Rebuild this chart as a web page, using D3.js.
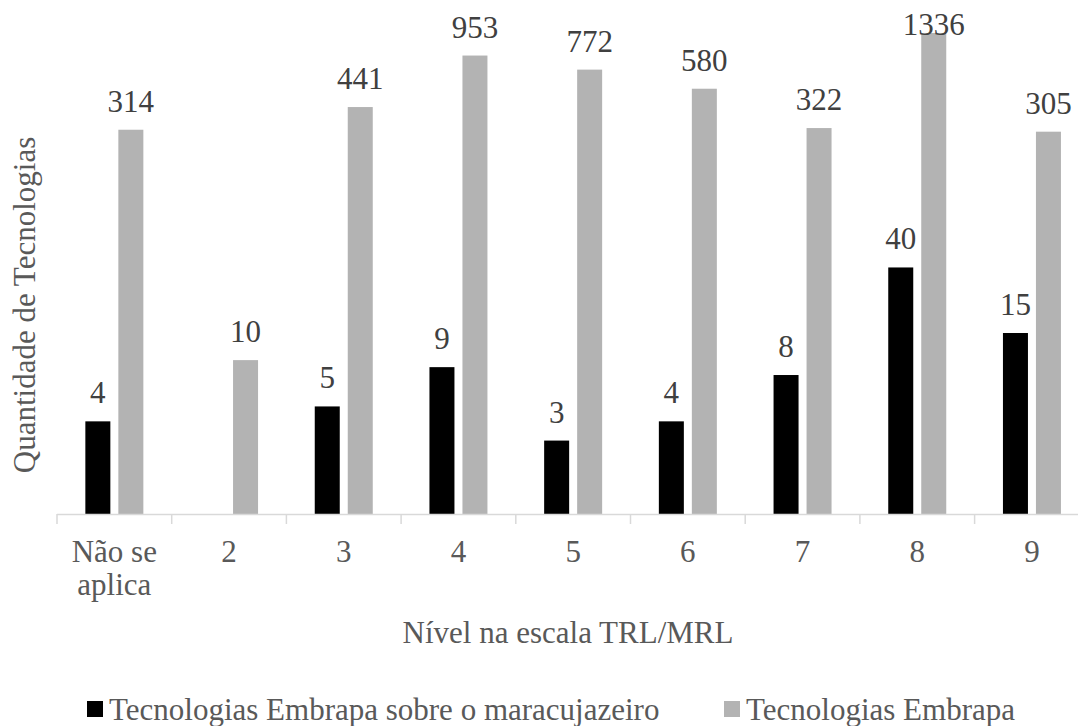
<!DOCTYPE html>
<html>
<head>
<meta charset="utf-8">
<script src="https://cdn.jsdelivr.net/npm/d3@7"></script>
<style>
  html, body { margin: 0; padding: 0; background: #ffffff; }
  svg { display: block; }
</style>
</head>
<body>
<svg id="chart" width="1078" height="726"></svg>
<script>
// Technology readiness levels (TRL/MRL) on the category axis
const categories = ["Não se aplica", "2", "3", "4", "5", "6", "7", "8", "9"];
const seriesNames = ["Tecnologias Embrapa sobre o maracujazeiro", "Tecnologias Embrapa"];
// Passion-fruit technologies per level (null = none)
const maracujaValues = [4, null, 5, 9, 3, 4, 8, 40, 15];
// All Embrapa technologies per level
const embrapaValues = [314, 10, 441, 953, 772, 580, 322, 1336, 305];
const seriesColors = ["#000000", "#b3b3b3"];

const FONT = "Liberation Serif, Times New Roman, serif";
const svg = d3.select("#chart").attr("font-family", FONT);
const textColor = "#595959";
const labelColor = "#404040";
const axisColor = "#d9d9d9";

const plot = { left: 57, right: 1089.3, top: 6, bottom: 514 };

const x0 = d3.scaleBand()
  .domain(categories)
  .range([plot.left, plot.right])
  .paddingInner(0)
  .paddingOuter(0);

const bw = x0.bandwidth();
const x1 = d3.scaleBand()
  .domain(seriesNames)
  .range([bw / 2 - 29, bw / 2 + 29])
  .paddingInner(0.2424)
  .paddingOuter(0);

const y = d3.scaleLog()
  .domain([1, 2000])
  .range([plot.bottom, plot.top]);

const rows = categories.map((c, i) => ({
  cat: c,
  vals: [
    { s: seriesNames[0], v: maracujaValues[i], color: seriesColors[0] },
    { s: seriesNames[1], v: embrapaValues[i], color: seriesColors[1] }
  ].filter(d => d.v != null)
}));

// Bars
const groups = svg.append("g").selectAll("g")
  .data(rows)
  .join("g")
  .attr("transform", d => `translate(${x0(d.cat)},0)`);

groups.selectAll("rect")
  .data(d => d.vals)
  .join("rect")
  .attr("x", d => x1(d.s))
  .attr("width", x1.bandwidth())
  .attr("y", d => y(d.v))
  .attr("height", d => y(1) - y(d.v))
  .attr("fill", d => d.color);

// Value labels (kept inside the chart area when a bar reaches the top)
groups.selectAll("text.val")
  .data(d => d.vals)
  .join("text")
  .attr("class", "val")
  .attr("font-family", FONT)
  .attr("x", d => x1(d.s) + x1.bandwidth() / 2)
  .attr("y", d => Math.max(y(d.v) - 18, 35))
  .attr("text-anchor", "middle")
  .attr("font-size", 31)
  .attr("fill", labelColor)
  .text(d => d.v);

// Category axis
const xAxis = d3.axisBottom(x0).tickSize(0).tickFormat("");
const axisG = svg.append("g")
  .attr("transform", `translate(0,${plot.bottom})`)
  .call(xAxis);
axisG.select(".domain").remove();
axisG.append("line")
  .attr("x1", plot.left).attr("x2", 1078)
  .attr("y1", 0.5).attr("y2", 0.5)
  .attr("stroke", axisColor).attr("stroke-width", 1.5);

// Tick marks at the category boundaries
const boundaries = categories.map(c => x0(c)).concat([plot.right]);
axisG.selectAll("line.tick-mark")
  .data(boundaries)
  .join("line")
  .attr("class", "tick-mark")
  .attr("x1", d => d).attr("x2", d => d)
  .attr("y1", 0).attr("y2", 10)
  .attr("stroke", axisColor).attr("stroke-width", 1.5);

// Category labels (the long one wraps over two lines)
const catLines = { "Não se aplica": ["Não se", "aplica"] };
const catLabels = svg.append("g").selectAll("text")
  .data(categories)
  .join("text")
  .attr("font-family", FONT)
  .attr("x", d => x0(d) + bw / 2)
  .attr("y", 562)
  .attr("text-anchor", "middle")
  .attr("font-size", 31)
  .attr("fill", textColor);
catLabels.each(function(d) {
  const lines = catLines[d] || [d];
  const t = d3.select(this);
  lines.forEach((ln, i) => {
    t.append("tspan")
      .attr("x", x0(d) + bw / 2)
      .attr("dy", i === 0 ? 0 : 33)
      .text(ln);
  });
});

// Axis titles
svg.append("text")
  .attr("font-family", FONT)
  .attr("x", 568)
  .attr("y", 643)
  .attr("text-anchor", "middle")
  .attr("font-size", 31)
  .attr("fill", textColor)
  .text("Nível na escala TRL/MRL");

svg.append("text")
  .attr("font-family", FONT)
  .attr("transform", "translate(35,305) rotate(-90)")
  .attr("text-anchor", "middle")
  .attr("font-size", 31)
  .attr("fill", textColor)
  .text("Quantidade de Tecnologias");

// Legend
const legendItems = [
  { name: seriesNames[0], color: seriesColors[0], x: 87 },
  { name: seriesNames[1], color: seriesColors[1], x: 724 }
];
const legend = svg.append("g").selectAll("g")
  .data(legendItems)
  .join("g")
  .attr("transform", d => `translate(${d.x},0)`);
legend.append("rect")
  .attr("x", 0).attr("y", 701)
  .attr("width", 16).attr("height", 16)
  .attr("fill", d => d.color);
legend.append("text")
  .attr("font-family", FONT)
  .attr("x", 22)
  .attr("y", 720)
  .attr("font-size", 31)
  .attr("fill", textColor)
  .text(d => d.name);
</script>
</body>
</html>
